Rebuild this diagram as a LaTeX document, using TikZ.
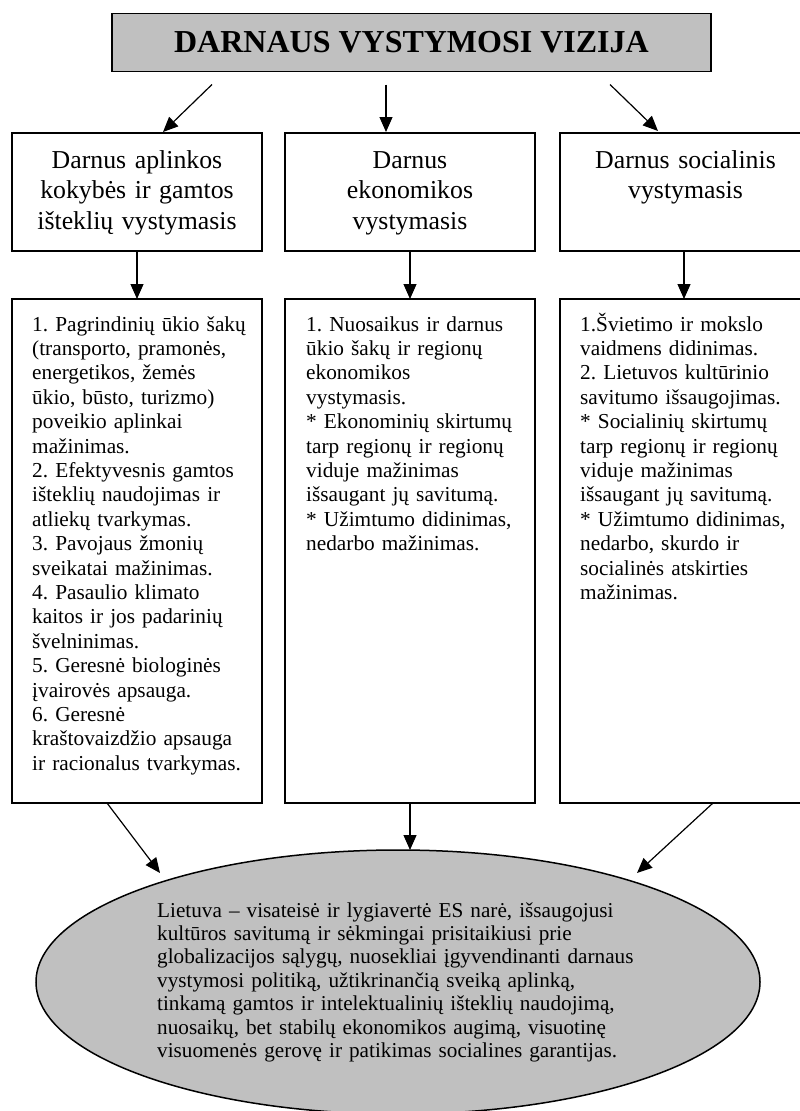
\documentclass[tikz,border=0pt]{standalone}
\usepackage{fontspec}
\setmainfont{Liberation Serif}
\usetikzlibrary{arrows.meta,shapes.geometric}
\definecolor{fillgray}{HTML}{C0C0C0}
\frenchspacing
\begin{document}
\begin{tikzpicture}[x=1pt,y=-1pt,
  box/.style={draw=black, line width=1.5pt, rectangle, inner sep=0pt, outer sep=0pt},
  arr/.style={line width=1.2pt, -{Triangle[length=15pt,width=13pt]}},
  htext/.style={inner sep=0pt, anchor=base, align=center, text width=240pt, font=\fontsize{25.8}{30.5}\selectfont},
  ltext/.style={inner sep=0pt, anchor=base west, align=left, text width=235pt, font=\fontsize{21.3}{24.4}\selectfont},
  gtext/.style={inner sep=0pt, anchor=base west, align=left, text width=500pt, font=\fontsize{21.2}{23.4}\selectfont},
]
\useasboundingbox (0,0) rectangle (800,1111);

% title
\node[box, fill=fillgray, minimum width=599pt, minimum height=58pt,
      font=\fontsize{32}{38}\selectfont\bfseries] (title) at (411.5,42.5) {DARNAUS VYSTYMOSI VIZIJA};

% heading boxes
\node[box, minimum width=250pt, minimum height=118pt] (h1) at (137,192) {};
\node[box, minimum width=250pt, minimum height=118pt] (h2) at (410,192) {};
\node[box, minimum width=250pt, minimum height=118pt] (h3) at (685,192) {};
\node[htext] (h1t) at (137,168) {Darnus aplinkos\\kokybės ir gamtos\\išteklių vystymasis};
\node[htext] (h2t) at (410,168) {Darnus\\ekonomikos\\vystymasis};
\node[htext] (h3t) at (685.5,168) {Darnus socialinis\\vystymasis};

% list boxes
\node[box, minimum width=250pt, minimum height=504pt] (l1) at (137,551) {};
\node[box, minimum width=250pt, minimum height=504pt] (l2) at (410,551) {};
\node[box, minimum width=250pt, minimum height=504pt] (l3) at (685,551) {};
\node[ltext] (l1t) at (32,331) {1. Pagrindinių ūkio šakų\\(transporto, pramonės,\\energetikos, žemės\\ūkio, būsto, turizmo)\\poveikio aplinkai\\mažinimas.\\2. Efektyvesnis gamtos\\išteklių naudojimas ir\\atliekų tvarkymas.\\3. Pavojaus žmonių\\sveikatai mažinimas.\\4. Pasaulio klimato\\kaitos ir jos padarinių\\švelninimas.\\5. Geresnė biologinės\\įvairovės apsauga.\\6. Geresnė\\kraštovaizdžio apsauga\\ir racionalus tvarkymas.};
\node[ltext] (l2t) at (306,331) {1. Nuosaikus ir darnus\\ūkio šakų ir regionų\\ekonomikos\\vystymasis.\\{}* Ekonominių skirtumų\\tarp regionų ir regionų\\viduje mažinimas\\išsaugant jų savitumą.\\{}* Užimtumo didinimas,\\nedarbo mažinimas.};
\node[ltext] (l3t) at (580,331) {1.Švietimo ir mokslo\\vaidmens didinimas.\\2. Lietuvos kultūrinio\\savitumo išsaugojimas.\\{}* Socialinių skirtumų\\tarp regionų ir regionų\\viduje mažinimas\\išsaugant jų savitumą.\\{}* Užimtumo didinimas,\\nedarbo, skurdo ir\\socialinės atskirties\\mažinimas.};

% goal ellipse
\node[ellipse, draw=black, line width=1.5pt, fill=fillgray, minimum width=724pt, minimum height=264pt, inner sep=0pt, outer sep=0pt] (goal) at (398,982) {};
\node[gtext] (goalt) at (157,917) {Lietuva – visateisė ir lygiavertė ES narė, išsaugojusi\\kultūros savitumą ir sėkmingai prisitaikiusi prie\\globalizacijos sąlygų, nuosekliai įgyvendinanti darnaus\\vystymosi politiką, užtikrinančią sveiką aplinką,\\tinkamą gamtos ir intelektualinių išteklių naudojimą,\\nuosaikų, bet stabilų ekonomikos augimą, visuotinę\\visuomenės gerovę ir patikimas socialines garantijas.};

% connectors: title -> headings
\draw[arr] ([xshift=100pt,yshift=-13pt]title.south west) -- ([xshift=26pt,yshift=1pt]h1.north);
\draw[arr] ([xshift=-25.5pt,yshift=-13pt]title.south) -- ([xshift=-24pt,yshift=1pt]h2.north);
\draw[arr] ([xshift=-101pt,yshift=-13pt]title.south east) -- ([xshift=-27pt,yshift=2pt]h3.north);

% headings -> lists
\draw[arr] (h1.south) -- (l1.north);
\draw[arr] (h2.south) -- (l2.north);
\draw[arr] ([xshift=-1pt]h3.south) -- ([xshift=-1pt]l3.north);

% lists -> goal
\draw[arr] ([xshift=-30pt]l1.south) -- ([xshift=-238pt,yshift=109pt]goal.center);
\draw[arr] (l2.south) -- ([xshift=12pt]goal.north);
\draw[arr] ([xshift=28pt]l3.south) -- ([xshift=239pt,yshift=109pt]goal.center);
\end{tikzpicture}
\end{document}
